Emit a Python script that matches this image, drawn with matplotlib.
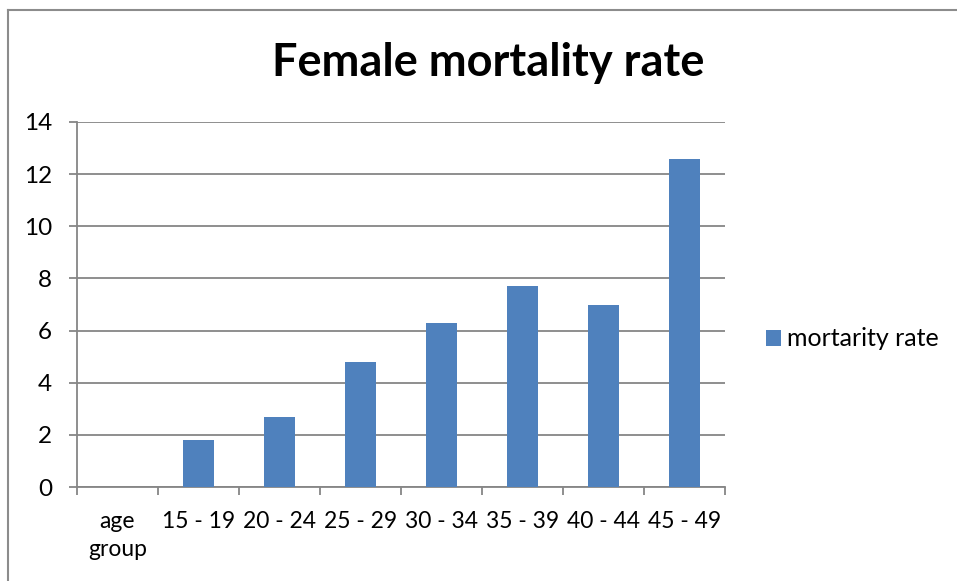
import matplotlib.pyplot as plt
import numpy as np
from matplotlib.lines import Line2D

plt.rcParams['font.family'] = ['Lato', 'DejaVu Sans']

# Data
age_groups = ["age\ngroup", "15 - 19", "20 - 24", "25 - 29", "30 - 34", "35 - 39", "40 - 44", "45 - 49"]
mortality_rate = [0, 1.8, 2.7, 4.8, 6.3, 7.7, 7.0, 12.6]

W, H = 957, 581
fig = plt.figure(figsize=(W / 100, H / 100), dpi=100)

# outer chart border (only left and top visible in the crop)
grey = '#8c8c8c'
fig.add_artist(Line2D([8 / W, 8 / W], [0, 1 - 10 / H], transform=fig.transFigure, color=grey, lw=1.5))
fig.add_artist(Line2D([8 / W, 1], [1 - 10 / H, 1 - 10 / H], transform=fig.transFigure, color=grey, lw=1.5))

ax = fig.add_axes([77 / W, (H - 487) / H, (725 - 77) / W, (487 - 122) / H])

x = np.arange(len(age_groups))
bars = ax.bar(x, mortality_rate, width=0.39, color='#4f81bd', label='mortarity rate', zorder=3)

ax.set_xlim(-0.5, len(age_groups) - 0.5)
ax.set_ylim(0, 14)
ax.set_yticks(range(0, 15, 2))
ax.grid(axis='y', color='#868686', lw=1.3, zorder=0)

# category boundaries as major ticks, labels on minor ticks
ax.set_xticks(np.arange(-0.5, len(age_groups)), labels=[])
ax.set_xticks(x, labels=age_groups, minor=True)
for lbl in ax.get_xticklabels(minor=True):
    lbl.set_linespacing(1.45)
ax.tick_params(axis='x', which='major', length=6, width=1.3, color='#868686', direction='out')
ax.tick_params(axis='x', which='minor', length=0, pad=17, labelsize=16.5)
ax.tick_params(axis='y', length=6, width=1.3, color='#868686', pad=12, labelsize=17.5)

for side in ['top', 'right']:
    ax.spines[side].set_visible(False)
for side in ['left', 'bottom']:
    ax.spines[side].set_color('#868686')
    ax.spines[side].set_linewidth(1.3)

fig.text(488 / W, 1 - 63 / H, 'Female mortality rate', ha='center', va='center',
         fontsize=32.5, fontweight='bold')

fig.legend(handles=[bars], loc='center left', bbox_to_anchor=(766 / W, 1 - 339 / H),
           frameon=False, fontsize=18, handlelength=0.6, handleheight=0.6, handletextpad=0.25,
           borderpad=0, borderaxespad=0)

fig.savefig('out.png', dpi=100)
